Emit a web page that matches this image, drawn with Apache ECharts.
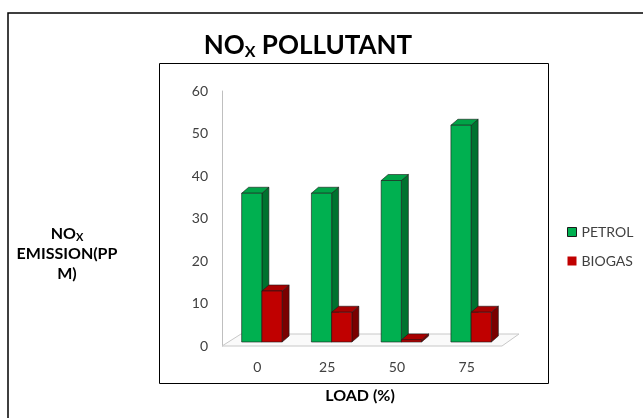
<!DOCTYPE html>
<html>
<head>
<meta charset="utf-8">
<script src="https://cdn.jsdelivr.net/npm/echarts@6/dist/echarts.min.js"></script>
<style>
  html, body { margin: 0; padding: 0; background: #fff; }
  #chart { width: 643px; height: 418px; }
</style>
</head>
<body>
<div id="chart"></div>
<script>
// data
var loads = ['0', '25', '50', '75'];
var petrol = [35, 35, 38, 51];
var biogas = [12, 7, 0.5, 7];
var yTicks = [0, 60, 10]; // min, max, interval

var FONT = 'Lato';
var chart = echarts.init(document.getElementById('chart'));

// 3d column drawn from the axis coords
function bar3d (off, front, side, topc) {
    return function (params, api) {
        var idx = api.value(0);
        var v = api.value(1);
        var base = api.coord([idx, 0]);
        var top = api.coord([idx, v]);
        var band = api.size([1, 0])[0];
        var w = band * 0.29;
        var lift = 4, dx = 7, dy = -6;
        var x0 = base[0] + off * w;
        var yb = base[1] - lift;
        var yt = top[1] - lift;
        var line = '#1a1a1a';
        return {
            type: 'group',
            children: [
                { type: 'polygon', shape: { points: [[x0 + w, yt], [x0 + w + dx, yt + dy], [x0 + w + dx, yb + dy], [x0 + w, yb]] },
                  style: { fill: side, stroke: line, lineWidth: 0.6 } },
                { type: 'polygon', shape: { points: [[x0, yt], [x0 + dx, yt + dy], [x0 + w + dx, yt + dy], [x0 + w, yt]] },
                  style: { fill: topc, stroke: line, lineWidth: 0.6 } },
                { type: 'rect', shape: { x: x0, y: yt, width: w, height: yb - yt },
                  style: { fill: front, stroke: line, lineWidth: 0.6 } }
            ]
        };
    };
}

function floor (params, api) {
    var a = api.coord([0, 0]);
    var b = api.coord([loads.length - 1, 0]);
    var band = api.size([1, 0])[0];
    var l = a[0] - band / 2 - 5;
    var r = b[0] + band / 2 - 4;
    var y = a[1];
    return {
        type: 'polygon',
        shape: { points: [[l, y], [r, y], [r + 17, y - 12], [l + 19, y - 12]] },
        style: { fill: '#fafafa', stroke: '#c8c8c8', lineWidth: 1 }
    };
}

chart.setOption({
    backgroundColor: '#fff',
    animation: false,
    grid: { left: 227, right: 137, top: 91, bottom: 72 },
    legend: {
        orient: 'vertical',
        left: 562,
        top: 220,
        itemGap: 15,
        itemWidth: 9,
        itemHeight: 9,
        textStyle: { fontFamily: FONT, fontSize: 14, color: '#404040' },
        data: [
            { name: 'PETROL', icon: 'rect', itemStyle: { color: '#00b050', borderColor: '#1a1a1a', borderWidth: 1 } },
            { name: 'BIOGAS', icon: 'rect', itemStyle: { color: '#c00000' } }
        ]
    },
    xAxis: {
        type: 'category',
        data: loads,
        axisLine: { show: false },
        axisTick: { show: false },
        axisLabel: { margin: 14, padding: [0, 9, 0, 0], fontFamily: FONT, fontSize: 14, color: '#404040' }
    },
    yAxis: {
        type: 'value',
        min: yTicks[0],
        max: yTicks[1],
        interval: yTicks[2],
        offset: 5,
        splitLine: { show: false },
        axisTick: { show: false },
        axisLine: { show: true, lineStyle: { color: '#bfbfbf', width: 1 } },
        axisLabel: { margin: 14, fontFamily: FONT, fontSize: 14, color: '#404040' }
    },
    series: [
        {
            type: 'custom',
            name: 'floor',
            silent: true,
            z: 1,
            renderItem: floor,
            data: [[0, 0]]
        },
        {
            type: 'custom',
            name: 'PETROL',
            z: 2,
            itemStyle: { color: '#00b050' },
            renderItem: bar3d(-1, '#00b050', '#00722f', '#00a347'),
            data: petrol.map(function (v, i) { return [i, v]; })
        },
        {
            type: 'custom',
            name: 'BIOGAS',
            z: 3,
            itemStyle: { color: '#c00000' },
            renderItem: bar3d(0, '#c00000', '#7a0000', '#a80000'),
            data: biogas.map(function (v, i) { return [i, v]; })
        }
    ],
    graphic: [
        { type: 'rect', silent: true, z: -1, shape: { x: 8, y: 13, width: 700, height: 500 },
          style: { fill: '#fff', stroke: '#000', lineWidth: 1.5 } },
        { type: 'rect', silent: true, z: -1, shape: { x: 159.5, y: 63.5, width: 389, height: 320 },
          style: { fill: '#fff', stroke: '#000', lineWidth: 1 } },
        { type: 'text', x: 308, y: 46,
          style: { text: '{a|NO}{b|X}{a| POLLUTANT}', align: 'center', verticalAlign: 'middle',
            rich: { a: { fontFamily: FONT, fontWeight: 'bold', fontSize: 26, fill: '#000' },
                    b: { fontFamily: FONT, fontWeight: 'bold', fontSize: 16, fill: '#000', padding: [11, 0, 0, 0] } } } },
        { type: 'text', x: 67, y: 254,
          style: { text: '{a|NO}{b|X}\n{a|EMISSION(PP}\n{a|M)}', align: 'center', verticalAlign: 'middle',
            rich: { a: { fontFamily: FONT, fontWeight: 'bold', fontSize: 16, fill: '#000', lineHeight: 20 },
                    b: { fontFamily: FONT, fontWeight: 'bold', fontSize: 11, fill: '#000', padding: [7, 0, 0, 0], lineHeight: 20 } } } },
        { type: 'text', x: 360, y: 396,
          style: { text: 'LOAD (%)', align: 'center', verticalAlign: 'middle',
            fontFamily: FONT, fontWeight: 'bold', fontSize: 16, fill: '#000' } }
    ]
});
</script>
</body>
</html>
